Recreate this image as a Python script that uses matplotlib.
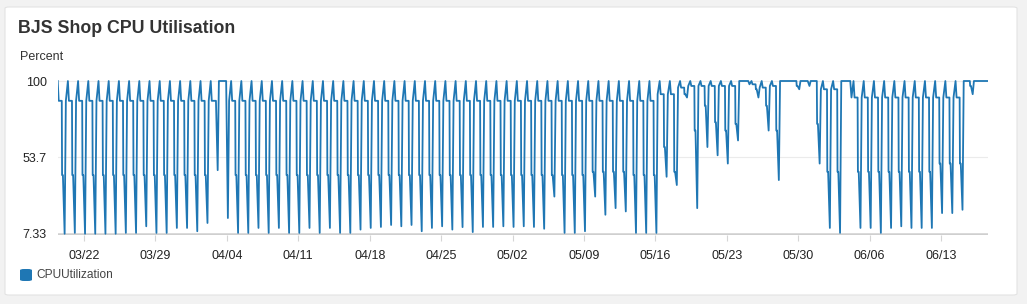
import matplotlib
matplotlib.use("Agg")
import matplotlib.pyplot as plt
from matplotlib.patches import FancyBboxPatch

# ---------------- data ----------------
title = "BJS Shop CPU Utilisation"
y_label = "Percent"
series_name = "CPUUtilization"
y_ticks = [7.33, 53.7, 100]
y_tick_labels = ["7.33", "53.7", "100"]
x_tick_days = [0, 7, 14, 21, 28, 35, 42, 49, 56, 63, 70, 77, 84]   # days after 03/22 tick
x_tick_labels = ["03/22", "03/29", "04/04", "04/11", "04/18", "04/25", "05/02",
                 "05/09", "05/16", "05/23", "05/30", "06/06", "06/13"]

PEAK = 100
# one entry per daily cycle (92 cycles)
plateau = [88, 88, 88, 88, 88, 88, 88, 88, 88, 88,
           88, 88, 88, 88, 88, 88, 100, 88, 88, 88,
           88, 88, 88, 88, 88, 88, 88, 88, 88, 88,
           88, 88, 88, 88, 88, 88, 88, 88, 88, 88,
           88, 88, 88, 88, 88, 88, 88, 88, 88, 88,
           88, 88, 88, 88, 88, 88, 88, 88, 88, 92,
           92, 96, 97, 97, 97, 97, 97, 100, 98, 96,
           97, 100, 100, 100, 100, 95, 95, 100, 90, 90,
           90, 90, 90, 90, 90, 90, 90, 90, 90, 100,
           100, 100]
shoulder = [43, 43, 43, 43, 43, 43, 43, 43, 43, 43,
            43, 43, 43, 43, 43, 88, 100, 43, 43, 43,
            43, 43, 43, 43, 43, 43, 43, 43, 43, 43,
            43, 43, 43, 43, 43, 43, 43, 43, 43, 43,
            43, 43, 43, 43, 43, 43, 43, 43, 43, 43,
            43, 43, 45, 45, 45, 45, 43, 43, 43, 60,
            45, 92, 70, 85, 75, 70, 74, 100, 95, 85,
            70, 100, 97, 100, 74, 45, 45, 100, 45, 45,
            45, 45, 45, 45, 45, 45, 50, 50, 50, 97,
            100, 100]
trough = [7.5, 8, 7.5, 7.5, 7.5, 7.5, 8, 8, 12, 8,
          8, 11, 11, 9, 14, 46, 17, 8, 8, 11,
          8, 11, 8, 8, 11, 8, 11, 8, 8, 10,
          11, 11.6, 12.8, 12, 12.8, 9, 11, 12, 10, 11.5,
          8.5, 11.6, 11.6, 12, 11.6, 12, 11.6, 10.5, 30, 8,
          8, 9, 30, 19, 23, 21, 8, 8, 8, 42,
          37, 90, 23, 60, 55, 50, 64, 100, 90, 70,
          40, 100, 95, 97, 50, 11, 8, 100, 11, 11,
          8, 11, 12, 11, 11, 11, 20, 20, 22, 92,
          100, 100]

FIRST_PEAK = -2.58          # day position of the first cycle peak
X_START, X_END = -2.55, 88.6

# ---------------- build the series ----------------
t, v = [], []
for m in range(len(trough)):
    p = FIRST_PEAK + m
    nxt = plateau[m + 1] if m + 1 < len(plateau) else plateau[m]
    for off, val in ((0.0, PEAK), (0.10, plateau[m]), (0.40, plateau[m]),
                     (0.43, shoulder[m]), (0.51, shoulder[m]),
                     (0.68, trough[m]), (0.80, nxt)):
        t.append(p + off)
        v.append(val)

# ---------------- figure ----------------
W, H = 1027, 304
fig = plt.figure(figsize=(W / 100, H / 100), dpi=100)
fig.patch.set_facecolor("#f2f2f2")
plt.rcParams["font.family"] = ["Liberation Sans", "DejaVu Sans"]

card = FancyBboxPatch((5 / W, 1 - 295 / H), 1012 / W, 288 / H,
                      boxstyle="round,pad=0,rounding_size=0.004",
                      transform=fig.transFigure, facecolor="white",
                      edgecolor="#e3e3e3", linewidth=0.8, zorder=0)
fig.add_artist(card)

fig.text(18 / W, 1 - 33 / H, title, fontsize=12.8, fontweight="bold",
         color="#333333", va="baseline", ha="left")
fig.text(20 / W, 1 - 60 / H, y_label, fontsize=9, color="#333333",
         va="baseline", ha="left")

ylo, yhi = 6.9, 100.5
ppu = 153 / (100 - 7.33)
top_px = 81 - (yhi - 100) * ppu
bot_px = 234 + (7.33 - ylo) * ppu
ax = fig.add_axes([58 / W, 1 - bot_px / H, 930 / W, (bot_px - top_px) / H])
ax.set_facecolor("none")
ax.set_xlim(X_START, X_END)
ax.set_ylim(ylo, yhi)
for s in ax.spines.values():
    s.set_visible(False)

for g in y_ticks[1:]:
    ax.axhline(g, color="#ebebeb", lw=0.8, zorder=1)
ax.axhline(y_ticks[0], color="#cfcfcf", lw=1.8, zorder=1)

ax.plot(t, v, color="#1f77b4", lw=1.3, zorder=3, solid_joinstyle="round")

ax.set_yticks(y_ticks)
ax.set_yticklabels(y_tick_labels)
ax.tick_params(axis="y", length=0, pad=8, labelsize=9, labelcolor="#222222")
ax.set_xticks(x_tick_days)
ax.set_xticklabels(x_tick_labels)
ax.tick_params(axis="x", length=4, width=0.8, color="#d5d5d5", pad=7,
               labelsize=9, labelcolor="#222222")

# legend
leg = FancyBboxPatch((20 / W, 1 - 281 / H), 12 / W, 12 / H,
                     boxstyle="round,pad=0,rounding_size=0.004",
                     transform=fig.transFigure, facecolor="#1f77b4",
                     edgecolor="none")
fig.add_artist(leg)
fig.text(36 / W, 1 - 275 / H, series_name, fontsize=8.6, color="#444444",
         va="center", ha="left")

fig.savefig("out.png", dpi=100, facecolor=fig.get_facecolor())
